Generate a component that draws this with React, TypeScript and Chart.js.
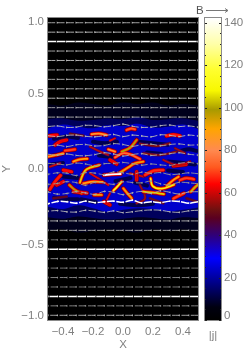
import React, { useEffect, useRef } from "react";
import { Chart, registerables } from "chart.js";

Chart.register(...registerables);

const xTicks = [-0.4, -0.2, 0, 0.2, 0.4];
const yTicks = [-1, -0.5, 0, 0.5, 1];
const colorbarTicks = [0, 20, 40, 60, 80, 100, 120, 140];
const colorbarMinorTicks = [5, 10, 15, 25, 30, 35, 45, 50, 55, 65, 70, 75, 85, 90, 95, 105, 110, 115, 125, 130, 135];
const colorbarLabel = ["|j|"];
const colorbarMax = 142.2;

const colormapValues = [0, 6, 29, 40, 48, 52, 64, 72, 80, 90, 99, 108, 118, 130, 142];
const colormapColors: number[][] = [
  [0, 0, 0], [0, 0, 16], [0, 0, 255], [48, 0, 120], [90, 0, 32], [112, 16, 16], [255, 0, 0], [255, 90, 32],
  [255, 138, 80], [255, 165, 0], [168, 154, 0], [248, 248, 0], [255, 255, 48], [255, 255, 168], [255, 255, 255],
];

const bandX = [-0.5, -0.4, -0.3, -0.2, -0.1, 0, 0.1, 0.2, 0.3, 0.4, 0.5];
const hazeTop = [0.43, 0.42, 0.44, 0.43, 0.42, 0.44, 0.43, 0.44, 0.42, 0.43, 0.42];
const hazeBottom = [-0.41, -0.4, -0.42, -0.41, -0.4, -0.41, -0.42, -0.4, -0.41, -0.4, -0.41];
const navyTop = [0.33, 0.335, 0.32, 0.325, 0.335, 0.33, 0.345, 0.325, 0.33, 0.335, 0.32];
const navyBottom = [-0.32, -0.33, -0.315, -0.325, -0.335, -0.33, -0.32, -0.325, -0.335, -0.32, -0.325];
const blueTop = [0.27, 0.295, 0.28, 0.27, 0.29, 0.285, 0.3, 0.275, 0.28, 0.295, 0.265];
const blueBottom = [-0.25, -0.265, -0.24, -0.26, -0.285, -0.27, -0.26, -0.265, -0.28, -0.27, -0.255];

const filamentValues = [85, 72, 66, 62, 70, 85, 100, 75, 88, 90, 92, 142, 105, 65, 66, 100, 88, 112, 92, 108, 105, 90, 102, 92, 70, 60, 68, 70, 60, 62, 62, 58, 60, 64];
const filamentX: number[][] = [
  [-0.21, -0.16, -0.11], [0.024, 0.054, 0.08], [0.29, 0.336, 0.38], [-0.453, -0.42, -0.376], [-0.387, -0.32],
  [-0.098, -0.053], [-0.009, 0.047, 0.091], [-0.053, -0.002, 0.047, 0.113], [-0.498, -0.442, -0.398],
  [-0.331, -0.287, -0.238], [-0.02, 0.036, 0.08, 0.136], [-0.127, -0.076, -0.016], [-0.287, -0.269, -0.242, -0.158],
  [-0.398, -0.342], [-0.487, -0.453, -0.416], [-0.358, -0.32, -0.276], [-0.264, -0.198, -0.136],
  [-0.064, -0.038, -0.009], [0.002, 0.029, 0.058], [0.184, 0.198, 0.258, 0.34], [0.136, 0.202, 0.273],
  [0.291, 0.331, 0.371], [0.451, 0.48, 0.498], [-0.193, -0.142], [0.336, 0.369, 0.407], [-0.127, -0.087],
  [0.147, 0.207, 0.269], [0.38, 0.424, 0.473], [0.091, 0.091], [-0.398, -0.442], [-0.087, -0.042], [0.336, 0.42],
  [-0.33, -0.24], [-0.49, -0.44],
];
const filamentY: number[][] = [
  [0.23, 0.234, 0.225], [0.258, 0.267, 0.263], [0.219, 0.227, 0.219], [0.159, 0.181, 0.192], [0.121, 0.13],
  [0.13, 0.115], [0.115, 0.141, 0.192], [0.077, 0.104, 0.097, 0.066], [0.082, 0.093, 0.104],
  [0.049, 0.064, 0.068], [-0.024, 0.011, 0.038, 0.049], [-0.04, -0.035, -0.033], [-0.09, -0.04, -0.002, 0.026],
  [-0.007, -0.018], [-0.135, -0.084, -0.042], [-0.106, -0.139, -0.161], [-0.095, -0.084, -0.086],
  [-0.143, -0.117, -0.084], [-0.128, -0.161, -0.194], [-0.062, -0.113, -0.13, -0.104], [-0.15, -0.157, -0.166],
  [-0.113, -0.077, -0.051], [-0.15, -0.121, -0.106], [-0.172, -0.172], [-0.196, -0.179, -0.161], [-0.216, -0.238],
  [-0.04, -0.011, -0.007], [-0.073, -0.06, -0.068], [-0.073, -0.018], [-0.084, -0.106], [0.06, 0.033], [0.02, 0.03],
  [-0.15, -0.16], [0.22, 0.225],
];

const wispValues = [54, 52, 62, 58, 54, 58, 60, 62, 56, 50, 52, 50, 56, 60, 62];
const wispX: number[][] = [
  [0.113, 0.224, 0.313], [-0.353, -0.264], [-0.087, -0.053], [-0.22, -0.153, -0.098], [0.136, 0.247, 0.358],
  [0.269, 0.358, 0.447], [-0.487, -0.42], [-0.22, -0.164, -0.098], [0.113, 0.147, 0.091], [-0.464, -0.376],
  [0.18, 0.269], [0.424, 0.491], [0.347, 0.413], [0.047, 0.136], [-0.087, -0.109],
];
const wispY: number[][] = [
  [0.168, 0.152, 0.17], [0.234, 0.22], [0.188, 0.203], [0.148, 0.115, 0.093], [0.104, 0.093, 0.115],
  [0.06, 0.027, 0.049], [0.015, 0.038], [-0.029, -0.062, -0.106], [-0.106, -0.194, -0.227], [-0.194, -0.183],
  [-0.194, -0.227], [-0.194, -0.216], [0.137, 0.104], [-0.029, -0.05], [-0.161, -0.205],
];

const patchX: number[][] = [
  [-0.46, -0.38, -0.3], [-0.2, -0.12, -0.04], [0.1, 0.2, 0.3], [0.38, 0.44, 0.49], [-0.48, -0.4], [-0.16, -0.08],
  [0.16, 0.26], [0.3, 0.4, 0.48], [-0.4, -0.3], [-0.05, 0.05], [0.08, 0.16], [-0.46, -0.38, -0.3], [-0.02, 0.1, 0.2],
  [0.3, 0.4], [-0.28, -0.18],
];
const patchY: number[][] = [
  [0.2, 0.215, 0.205], [0.18, 0.17, 0.18], [0.18, 0.17, 0.16], [0.12, 0.13, 0.12], [0.03, 0.04], [0.09, 0.08],
  [0.11, 0.1], [0.05, 0.04, 0.03], [-0.05, -0.06], [-0.08, -0.06], [-0.09, -0.11], [-0.19, -0.2, -0.2],
  [-0.23, -0.24, -0.23], [-0.01, -0.02], [-0.2, -0.22],
];

const arrowX = [-0.5, -0.4375, -0.375, -0.3125, -0.25, -0.1875, -0.125, -0.0625, 0, 0.0625, 0.125, 0.1875, 0.25, 0.3125, 0.375, 0.4375, 0.5];
const arrowRowY = [0.96875, 0.90625, 0.84375, 0.78125, 0.71875, 0.65625, 0.59375, 0.53125, 0.46875, 0.40625, 0.34375, 0.28125, 0.21875, 0.15625, 0.09375, 0.03125, -0.03125, -0.09375, -0.15625, -0.21875, -0.28125, -0.34375, -0.40625, -0.46875, -0.53125, -0.59375, -0.65625, -0.71875, -0.78125, -0.84375, -0.90625, -0.96875];
const arrowRowStrength = [0.7, 0.75, 1, 0.7, 0.75, 0.65, 0.7, 0.7, 0.75, 0.7, 0.7, 0.72, 0.72, 0.68, 0.68, 0.62, 0.62, 0.62, 0.68, 0.95, 0.72, 0.72, 0.7, 0.5, 1, 0.6, 0.55, 0.6, 0.55, 0.95, 0.6, 0.7];
const bendFirstRow = 11;
const arrowRowBend: number[][] = [
  [0, 4, -6, -4, 8, 6, -2, 6, 16, 2, -6, -4, 6, 10, 0, 4, -4],
  [2, -4, 4, 6, -2, -6, 2, 10, -4, 6, 0, -6, 8, 4, -4, 6, 0],
  [-4, 2, -8, 4, 6, -4, 0, 12, 6, -6, 4, 8, -2, 6, 10, 2, 4],
  [4, -2, 6, -4, -6, 2, 14, 6, -8, 2, 8, -4, 2, 8, 14, 4, -2],
  [6, 2, -4, 8, 2, -10, 4, 6, 12, 4, -6, 2, -4, -8, 6, 12, 4],
  [-4, 6, 4, -12, 8, 4, -6, 12, 6, -4, 10, 2, 8, -6, -2, 6, 0],
  [-8, -2, 10, 4, -14, 6, 2, -8, 10, 4, 2, 14, -4, -12, 6, 2, -4],
  [4, -10, -6, 6, -2, -12, 8, 2, -14, -2, 8, -6, 12, 2, -10, 4, 6],
  [-12, 4, 2, -8, 6, -4, 2, 6, -2, 12, -6, 2, -4, 6, 4, -8, 2],
  [2, 6, -2, -4, 8, 2, -6, 4, -8, -2, 6, 10, 8, -2, -6, 4, 8],
];

const FONT = { family: "'Liberation Sans'", size: 11.5 };
const TEXT = "#808080";
const BOX = "#8a8a8a";

function colorAt(v: number) {
  let i = 0;
  while (i < colormapValues.length - 2 && v > colormapValues[i + 1]) i++;
  const t = Math.min(1, Math.max(0, (v - colormapValues[i]) / (colormapValues[i + 1] - colormapValues[i])));
  const a = colormapColors[i], b = colormapColors[i + 1];
  return `rgb(${a.map((c, k) => Math.round(c + (b[k] - c) * t)).join(",")})`;
}

function fmt(v: number) {
  return v.toFixed(1).replace("-", "\u2212");
}

function buildDatasets() {
  const ds: any[] = [];
  const push = (d: any) => {
    d.order = 100000 - ds.length;
    ds.push(d);
    return ds.length - 1;
  };
  const curve = (xs: number[], ys: number[]) => xs.map((x, i) => ({ x, y: ys[i] }));
  const band = (top: number[], bottom: number[], color: string) => {
    const idx = ds.length;
    push({ data: curve(bandX, top), borderWidth: 0, pointRadius: 0, tension: 0.4, fill: { target: idx + 1 }, backgroundColor: color });
    push({ data: curve(bandX, bottom), borderWidth: 0, pointRadius: 0, tension: 0.4, fill: false });
  };
  band(hazeTop, hazeBottom, "#00001c");
  band(navyTop, navyBottom, "#00005c");
  band(blueTop, blueBottom, "#0000cc");
  patchX.forEach((xs, i) =>
    push({ data: curve(xs, patchY[i]), borderColor: colorAt(12), borderWidth: 4, pointRadius: 0, tension: 0.4, borderCapStyle: "round", fill: false }),
  );
  const layer = (xs: number[], ys: number[], v: number, w: number) =>
    push({ data: curve(xs, ys), borderColor: colorAt(v), borderWidth: w, pointRadius: 0, tension: 0.4, borderCapStyle: "round", fill: false });
  wispX.forEach((xs, i) => layer(xs, wispY[i], 42, 3));
  wispX.forEach((xs, i) => layer(xs, wispY[i], wispValues[i], 1.7));
  filamentX.forEach((xs, i) => layer(xs, filamentY[i], 46, 4.6));
  filamentX.forEach((xs, i) => layer(xs, filamentY[i], 64, 3.2));
  filamentX.forEach((xs, i) => layer(xs, filamentY[i], filamentValues[i], 1.8));
  arrowRowY.forEach((y, r) => {
    const s = arrowRowStrength[r];
    const bend = arrowRowBend[r - bendFirstRow];
    const pts = arrowX.map((x, j) => ({ x, y: y + (bend ? bend[j] / 1000 : 0) }));
    if (y < 0) pts.reverse();
    const g = Math.round(255 * Math.min(1, s * s + 0.2));
    const on = 5 + 3 * s;
    const color = `rgb(${g},${g},${g})`;
    push({
      data: pts,
      borderColor: color,
      borderWidth: s >= 0.95 ? 1.5 : 0.9,
      borderDash: [on, 9.375 - on],
      tension: 0.3,
      fill: false,
      pointStyle: "triangle",
      rotation: y < 0 ? -90 : 90,
      pointBackgroundColor: color,
      pointBorderWidth: 0,
      pointRadius: (c: any) => (c.dataIndex === 0 ? 0 : 1.3),
    });
  });
  return ds;
}

const edgeLabels = {
  id: "edgeLabels",
  beforeDraw(chart: any) {
    const s = chart.scales.y;
    const items = s.getLabelItems(chart.chartArea);
    items.forEach((it: any, i: number) => {
      const v = s.ticks[i].value;
      if (v === s.min) it.options.translation[1] -= 4;
      if (v === s.max) it.options.translation[1] += 4;
    });
  },
};

const boxPlugin = (background: string | null) => ({
  id: "box",
  beforeDatasetsDraw(chart: any) {
    if (!background) return;
    const { ctx, chartArea: a } = chart;
    ctx.save();
    ctx.fillStyle = background;
    ctx.fillRect(a.left, a.top, a.width, a.height);
    ctx.restore();
  },
  afterDatasetsDraw(chart: any) {
    const { ctx, chartArea: a } = chart;
    ctx.save();
    ctx.strokeStyle = BOX;
    ctx.lineWidth = 1;
    ctx.strokeRect(a.left - 0.5, a.top - 0.5, a.width + 1, a.height + 1);
    ctx.restore();
  },
});

const colorbarDecor = {
  id: "colorbarDecor",
  afterDatasetsDraw(chart: any) {
    const { ctx, chartArea: a, scales } = chart;
    ctx.save();
    ctx.strokeStyle = "#222";
    ctx.lineWidth = 1;
    const mark = (v: number, len: number) => {
      const p = Math.round(scales.y.getPixelForValue(v)) + 0.5;
      ctx.beginPath();
      ctx.moveTo(a.left, p);
      ctx.lineTo(a.left + len, p);
      ctx.moveTo(a.right, p);
      ctx.lineTo(a.right - len, p);
      ctx.stroke();
    };
    colorbarTicks.forEach((v) => mark(v, 2));
    colorbarMinorTicks.forEach((v) => mark(v, 1));
    // "B" field-direction key above the colour bar
    ctx.fillStyle = "#555";
    ctx.font = `${FONT.size}px ${FONT.family}`;
    ctx.textBaseline = "middle";
    ctx.fillText("B", a.left - 9, 10.5);
    ctx.strokeStyle = "#777";
    ctx.beginPath();
    ctx.moveTo(a.left + 1, 10.5);
    ctx.lineTo(a.left + 23, 10.5);
    ctx.moveTo(a.left + 20, 8.5);
    ctx.lineTo(a.left + 23, 10.5);
    ctx.lineTo(a.left + 20, 12.5);
    ctx.stroke();
    ctx.restore();
  },
};

export default function App() {
  const mainRef = useRef<HTMLCanvasElement>(null);
  const barRef = useRef<HTMLCanvasElement>(null);

  useEffect(() => {
    const main = new Chart(mainRef.current!, {
      type: "line",
      data: { datasets: buildDatasets() },
      plugins: [boxPlugin("#000"), edgeLabels],
      options: {
        responsive: false,
        animation: false,
        devicePixelRatio: 1,
        layout: { autoPadding: false, padding: { left: 0, top: 18, right: 51, bottom: 0 } },
        plugins: { legend: { display: false }, tooltip: { enabled: false } },
        scales: {
          x: {
            type: "linear",
            min: -0.5,
            max: 0.5,
            afterFit: (s: any) => { s.height = 33; },
            afterBuildTicks: (s: any) => { s.ticks = xTicks.map((value) => ({ value })); },
            grid: { display: false, drawTicks: false },
            border: { display: false },
            ticks: { callback: (v: any) => fmt(Number(v)), font: FONT, color: TEXT, padding: 5, maxRotation: 0, autoSkip: false },
            title: { display: true, text: "X", font: FONT, color: TEXT, padding: { top: 0, bottom: 1 } },
          },
          y: {
            type: "linear",
            min: -1,
            max: 1,
            afterFit: (s: any) => { s.width = 48; },
            afterBuildTicks: (s: any) => { s.ticks = yTicks.map((value) => ({ value })); },
            grid: { display: false, drawTicks: false },
            border: { display: false },
            ticks: { callback: (v: any) => fmt(Number(v)), font: FONT, color: TEXT, padding: 4, autoSkip: false },
            title: { display: true, text: "Y", font: FONT, color: TEXT, padding: 0 },
          },
        },
      },
    } as any);

    const bar = new Chart(barRef.current!, {
      type: "bar",
      data: {
        labels: colorbarLabel,
        datasets: [
          {
            data: [colorbarMax],
            barPercentage: 1,
            categoryPercentage: 1,
            borderWidth: 0,
            backgroundColor: (c: any) => {
              const a = c.chart.chartArea;
              if (!a) return "#000";
              const g = c.chart.ctx.createLinearGradient(0, a.bottom, 0, a.top);
              colormapValues.forEach((v) => g.addColorStop(Math.min(1, v / colorbarMax), colorAt(v)));
              return g;
            },
          },
        ],
      },
      plugins: [boxPlugin(null), edgeLabels, colorbarDecor],
      options: {
        responsive: false,
        animation: false,
        devicePixelRatio: 1,
        layout: { autoPadding: false, padding: { left: 205, top: 18, right: 0, bottom: 0 } },
        plugins: { legend: { display: false }, tooltip: { enabled: false } },
        scales: {
          x: {
            afterFit: (s: any) => { s.height = 33; },
            grid: { display: false, drawTicks: false },
            border: { display: false },
            ticks: { font: FONT, color: TEXT, padding: 9, maxRotation: 0 },
          },
          y: {
            position: "right",
            min: 0,
            max: colorbarMax,
            afterFit: (s: any) => { s.width = 28; },
            afterBuildTicks: (s: any) => { s.ticks = colorbarTicks.map((value) => ({ value })); },
            grid: { display: false, drawTicks: false },
            border: { display: false },
            ticks: { font: FONT, color: TEXT, padding: 3, autoSkip: false },
          },
        },
      },
    } as any);

    return () => {
      main.destroy();
      bar.destroy();
    };
  }, []);

  const layer: React.CSSProperties = { position: "absolute", left: 0, top: 0, width: 249, height: 353 };
  return (
    <div style={{ position: "fixed", left: 0, top: 0, width: 249, height: 353, background: "#fff", overflow: "hidden" }}>
      <canvas ref={mainRef} width={249} height={353} style={layer} />
      <canvas ref={barRef} width={249} height={353} style={layer} />
    </div>
  );
}
